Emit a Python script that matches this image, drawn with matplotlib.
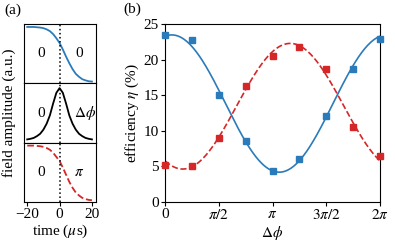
import matplotlib

matplotlib.use("Agg")
import matplotlib.pyplot as plt
import numpy as np

plt.rcParams["font.family"] = ["Liberation Serif", "DejaVu Serif"]
plt.rcParams["mathtext.fontset"] = "stix"
plt.rcParams["font.size"] = 11

BLUE = "#2b7bba"
RED = "#d62728"

# panel (a): pulse envelopes, t in microseconds
t_us = [-20, -18, -16, -14, -12, -10, -8, -6, -4, -2, 0,
        2, 4, 6, 8, 10, 12, 14, 16, 18, 20]
amp_top = [0.95, 0.95, 0.95, 0.945, 0.94, 0.93, 0.91, 0.88, 0.83, 0.76, 0.68,
           0.57, 0.45, 0.34, 0.24, 0.16, 0.11, 0.07, 0.05, 0.035, 0.03]
amp_mid = [0.055, 0.065, 0.08, 0.11, 0.15, 0.22, 0.32, 0.46, 0.66, 0.84, 0.92,
           0.84, 0.66, 0.46, 0.32, 0.22, 0.15, 0.11, 0.08, 0.065, 0.055]
amp_bot = [0.95, 0.95, 0.95, 0.945, 0.94, 0.93, 0.91, 0.88, 0.83, 0.76, 0.69,
           0.58, 0.46, 0.34, 0.24, 0.16, 0.11, 0.07, 0.05, 0.035, 0.03]
phase_labels = [("0", "0"), ("0", r"$\Delta\phi$"), ("0", r"$\pi$")]

# panel (b): measured efficiencies vs relative phase
dphi_steps = np.arange(9)  # in units of pi/4
eta_blue = [23.5, 22.8, 15.0, 8.5, 4.4, 6.0, 12.1, 18.7, 22.9]
eta_red = [5.2, 5.0, 9.0, 16.3, 20.5, 21.8, 18.7, 10.5, 6.4]
xtick_labels = ["0", r"$\pi/2$", r"$\pi$", r"$3\pi/2$", r"$2\pi$"]


def sine_fit(x, y, xf):
    # least-squares fit y = a + b cos x + c sin x
    A = np.column_stack([np.ones_like(x), np.cos(x), np.sin(x)])
    coef = np.linalg.lstsq(A, np.asarray(y), rcond=None)[0]
    return coef[0] + coef[1] * np.cos(xf) + coef[2] * np.sin(xf)


fig = plt.figure(figsize=(3.95, 2.49), dpi=100)
W, H = 395.0, 249.0

# ---- panel (a)
a_left, a_right, a_top, a_bot = 24, 96, 24, 202
h = (a_bot - a_top) / 3.0
curves = [(amp_top, BLUE, "-"), (amp_mid, "black", "-"), (amp_bot, RED, "--")]
for i, (amp, col, ls) in enumerate(curves):
    y0 = a_top + i * h
    ax = fig.add_axes([a_left / W, 1 - (y0 + h) / H, (a_right - a_left) / W, h / H])
    ax.plot(t_us, amp, color=col, ls=ls, lw=1.3)
    ax.axvline(0, color="black", ls=":", lw=1.1)
    ax.set_xlim(-22, 22.5)
    ax.set_ylim(0, 1)
    ax.set_yticks([])
    lab_l, lab_r = phase_labels[i]
    ax.text(-11.5, 0.5, lab_l, ha="center", va="center")
    ax.text(12 if i != 1 else 16, 0.5, lab_r, ha="center", va="center")
    if i < 2:
        ax.set_xticks([])
    else:
        ax.set_xticks([-20, 0, 20])
        ax.set_xticklabels(["\u221220", "0", "20"])
        ax.set_xlabel(r"time ($\mu$s)", labelpad=1)
    ax.tick_params(length=3, width=0.8, pad=1.5)

fig.text(9 / W, 1 - (a_top + a_bot) / 2 / H, "field amplitude (a.u.)",
         rotation=90, ha="center", va="center")
fig.text(13 / W, 1 - 10 / H, "(a)", ha="center", va="center")

# ---- panel (b)
b_left, b_right = 165, 380
axb = fig.add_axes([b_left / W, 1 - a_bot / H, (b_right - b_left) / W,
                    (a_bot - a_top) / H])
x_pts = dphi_steps * np.pi / 4
xf = np.linspace(0, 2 * np.pi, 300)
axb.plot(xf, sine_fit(x_pts, eta_blue, xf), color=BLUE, lw=1.2)
axb.plot(xf, sine_fit(x_pts, eta_red, xf), color=RED, lw=1.2, ls="--")
axb.plot(x_pts, eta_blue, "s", color=BLUE, ms=4.5, clip_on=False, zorder=3)
axb.plot(x_pts, eta_red, "s", color=RED, ms=4.5, clip_on=False, zorder=3)
axb.set_xlim(0, 2 * np.pi)
axb.set_ylim(0, 25)
axb.set_xticks(np.arange(5) * np.pi / 2)
axb.set_xticklabels(xtick_labels)
axb.set_yticks([0, 5, 10, 15, 20, 25])
axb.set_xlabel(r"$\Delta\phi$", labelpad=1)
axb.set_ylabel(r"efficiency $\eta$ (%)", labelpad=2)
axb.tick_params(length=3, width=0.8, pad=1.5)
fig.text(132 / W, 1 - 9 / H, "(b)", ha="center", va="center")

fig.savefig("out.png", dpi=100)
